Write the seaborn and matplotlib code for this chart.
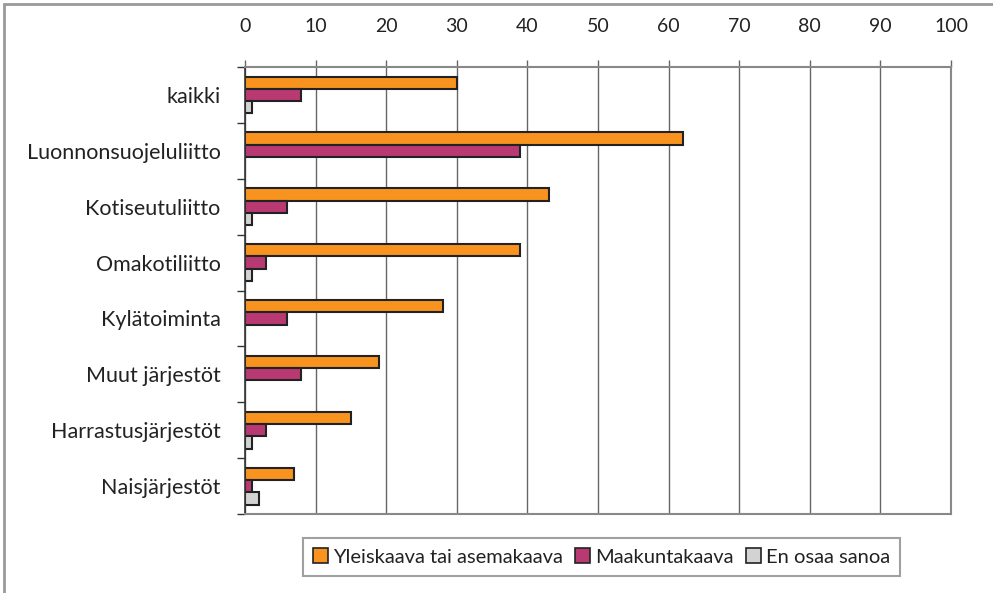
import numpy as np
import pandas as pd
import matplotlib
matplotlib.use("Agg")
import matplotlib.pyplot as plt
import seaborn as sns
from matplotlib.lines import Line2D

# data
categories = ["kaikki", "Luonnonsuojeluliitto", "Kotiseutuliitto", "Omakotiliitto",
              "Kylätoiminta", "Muut järjestöt", "Harrastusjärjestöt", "Naisjärjestöt"]
yleiskaava = [30, 62, 43, 39, 28, 19, 15, 7]
maakunta = [8, 39, 6, 3, 6, 8, 3, 1]
en_osaa = [1, None, 1, 1, None, None, 1, 2]
series = ["Yleiskaava tai asemakaava", "Maakuntakaava", "En osaa sanoa"]
colors = ["#F7931E", "#B93A73", "#D3D3D3"]

rows = []
for name, vals in zip(series, [yleiskaava, maakunta, en_osaa]):
    for c, v in zip(categories, vals):
        if v is not None:
            rows.append({"ryhma": c, "sarja": name, "arvo": v})
df = pd.DataFrame(rows)

sns.set_style("white")
plt.rcParams["font.family"] = ["Lato", "DejaVu Sans"]

fig = plt.figure(figsize=(9.93, 5.93), dpi=100)
ax = fig.add_axes([0.2467, 0.1332, 0.9577 - 0.2467, 0.887 - 0.1332])

sns.barplot(data=df, y="ryhma", x="arvo", hue="sarja", order=categories,
            hue_order=series, palette=colors, saturation=1, orient="h", width=0.66,
            edgecolor="#222222", linewidth=1.5, ax=ax, legend=False, errorbar=None)

ax.set_xlim(0, 100)
ax.set_ylim(len(categories) - 0.5, -0.5)
ax.set_xticks(np.arange(0, 101, 10))
ax.xaxis.tick_top()
ax.tick_params(axis="x", top=True, length=5, width=1, color="#666666",
               pad=18, labelsize=14, labelcolor="#222222")
ax.set_yticks(range(len(categories)))
ax.set_yticklabels(categories)
ax.tick_params(axis="y", left=False, pad=14, labelsize=15.5, labelcolor="#222222")
ax.set_yticks(np.arange(-0.5, len(categories), 1), minor=True)
ax.tick_params(axis="y", which="minor", left=True, length=6, width=1, color="#333333")
ax.set_xlabel("")
ax.set_ylabel("")

ax.grid(axis="x", color="#666666", linewidth=1)
ax.set_axisbelow(True)
for side in ["top", "right", "bottom"]:
    ax.spines[side].set_color("#888888")
    ax.spines[side].set_linewidth(1.5)
ax.spines["left"].set_color("#333333")
ax.spines["left"].set_linewidth(1.2)

handles = [plt.Rectangle((0, 0), 1, 1, facecolor=c, edgecolor="#222222", linewidth=1.2)
           for c in colors]
leg = fig.legend(handles, series, loc="center", bbox_to_anchor=(0.606, 0.0607),
                 ncol=3, frameon=True, fancybox=False, fontsize=14.5,
                 handlelength=0.75, handleheight=0.75, handletextpad=0.25,
                 columnspacing=0.6, borderpad=0.5, borderaxespad=0)
leg.get_frame().set_edgecolor("#888888")
leg.get_frame().set_linewidth(1.5)
for t in leg.get_texts():
    t.set_color("#222222")

# outer frame (top and left edge only visible)
fig.add_artist(Line2D([0.004, 1], [0.993, 0.993], color="#999999", linewidth=2,
                      transform=fig.transFigure))
fig.add_artist(Line2D([0.004, 0.004], [0, 0.993], color="#999999", linewidth=2,
                      transform=fig.transFigure))

fig.savefig("out.png", dpi=100)
